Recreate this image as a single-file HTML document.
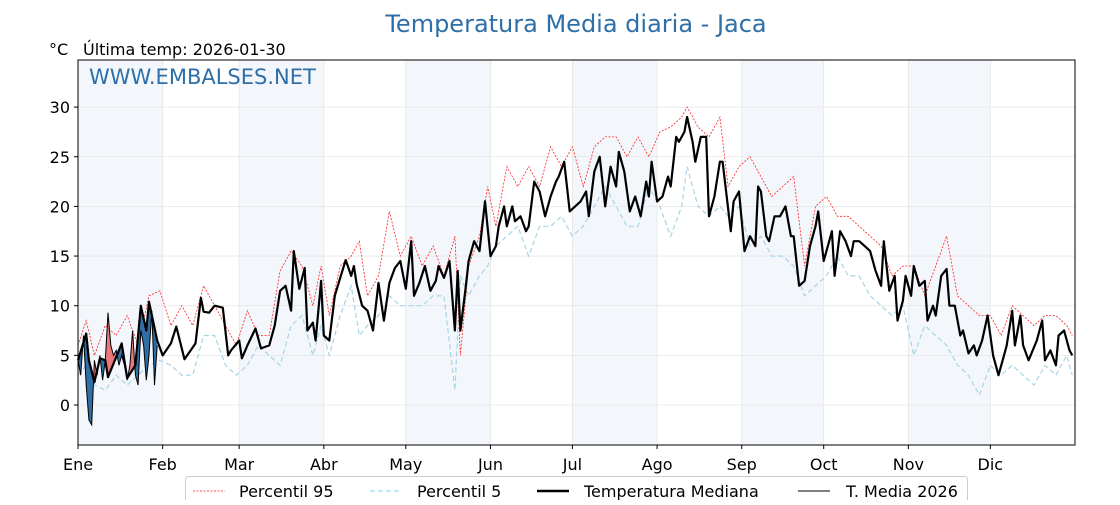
<!DOCTYPE html>
<html><head><meta charset="utf-8"><style>
body{margin:0;background:#fff;}
svg text{font-family:"DejaVu Sans","Liberation Sans",sans-serif;}
</style></head><body>
<svg id="chart" width="1120" height="500" xmlns="http://www.w3.org/2000/svg">
<rect width="1120" height="500" fill="#fff"/>
<text x="576" y="32" text-anchor="middle" font-size="24" fill="#2e6fa8">Temperatura Media diaria - Jaca</text>
<text x="49" y="55" font-size="16" fill="#000">°C</text>
<text x="83" y="55" font-size="16" fill="#000">Última temp: 2026-01-30</text>
<g id="plot"></g>
</svg>
<script>
const months=["Ene","Feb","Mar","Abr","May","Jun","Jul","Ago","Sep","Oct","Nov","Dic"];
const monthStart=[0,31,59,90,120,151,181,212,243,273,304,334];
const yTicks=[0,5,10,15,20,25,30];
const medDays=[0,3,4,6,8,10,11,16,18,21,23,25,26,29,31,34,36,39,43,45,46,48,50,53,55,56,59,60,62,65,67,70,72,74,76,78,79,81,83,84,86,87,89,90,92,94,96,98,100,101,102,104,106,108,110,112,114,116,118,120,122,123,125,127,129,131,132,134,136,138,139,140,142,143,145,147,149,151,153,154,156,157,159,160,162,164,165,167,169,171,173,175,176,178,180,182,184,186,187,189,191,193,195,197,198,200,202,204,206,208,209,210,212,214,216,217,219,220,222,223,225,226,228,230,231,233,235,236,239,240,242,244,246,248,249,250,252,253,255,257,259,261,262,264,266,268,270,271,273,275,276,277,279,281,283,284,286,288,290,292,294,295,297,299,300,302,303,305,306,308,310,311,313,314,316,318,319,321,323,324,326,328,329,331,333,335,337,339,340,342,343,345,346,348,351,353,354,356,358,359,361,363,364];
const medVals=[4.5,7.2,4.5,2.3,4.7,4.5,2.8,6.2,2.7,4,10,7.5,10.4,6.5,5,6.2,7.9,4.6,6.2,10.8,9.4,9.3,10,9.8,5,5.5,6.5,4.7,6,7.7,5.7,6,8,11.5,12,9.5,15.5,11.7,13.8,7.5,8.3,6.5,12.5,7,6.5,11,12.8,14.6,13,14,12.2,10,9.5,7.5,12.3,8.5,12.3,13.8,14.5,11.7,16.5,11,12.3,14,11.5,12.5,14,12.8,14.5,7.5,13.5,7.5,12,14.5,16.5,15.5,20.5,15,16,18,20,18,20,18.5,19,17.5,18,22.5,21.5,19,21,22.5,23,24.5,19.5,20,20.5,21.5,19,23.5,25,20,24,22,25.5,23.5,19.5,21,19,22.5,21,24.5,20.5,21,23,22,27,26.5,27.5,29,26.5,24.5,27,27,19,21,24.5,24.5,17.5,20.5,21.5,15.5,17,16,22,21.5,17,16.5,19,19,20,17,17,12,12.5,16,18,19.5,14.5,16.5,17.5,13,17.5,16.5,15,16.5,16.5,16,15.5,13.5,12,16.5,11.5,13,8.5,10.5,13,11,14,12,12.5,8.5,10,9,13,13.7,10,10,7,7.5,5.2,6,5,6.5,9,5,3,5,6,9.5,6,9,6,4.5,6.5,8.5,4.5,5.5,4,7,7.5,5.5,5];
const pDays=[0,3,6,10,14,18,22,26,30,34,38,42,46,50,54,58,62,66,70,74,78,82,86,89,92,96,100,103,106,110,114,118,122,126,130,134,138,140,143,147,150,153,157,161,165,169,173,177,181,185,189,193,197,201,205,209,213,217,221,223,227,231,235,238,242,246,250,254,258,262,266,270,274,278,282,286,290,294,298,302,306,310,314,318,322,326,330,334,338,342,346,350,354,358,362,364];
const p95Vals=[6,8.5,5,8,7,9,6,11,11.5,8,10,8,12,10,8,6,9.5,7,7,13.5,15.5,14,10,14,9,14,15,16.5,11,13,19.5,15,17,14,16,13,17,5,14,17,22,18,24,22,24,22,26,24,26,22,26,27,27,25,27,25,27.5,28,29,30,28,27,29,22,24,25,23,21,22,23,14,20,21,19,19,18,17,16,13,14,14,11,14,17,11,10,9,9,7,10,9,8,9,9,8,7];
const p5Vals=[3,4,2,1.5,3,2,3,4,4.5,4,3,3,7,7,4,3,4,6,5,4,8,9,5,8,5,9,12,7,8,9,11,10,10,10,11,11,1.5,13,11,13,14,16,17,18,15,18,18,19,17,18,20,22,20,18,18,22,20,17,20,24,20,19,20,19,20,16,17,15,15,14,11,12,13,15,13,13,11,10,9,10,5,8,7,6,4,3,1,4,3,4,3,2,4,3,5,3];
const curDays=[0,1,2,3,4,5,6,7,8,9,10,11,12,13,14,15,16,17,18,19,20,21,22,23,24,25,26,27,28,29];
const curVals=[4.5,3,7,2,-1.5,-2,4.5,3,5,2.5,4.5,9.3,6,5,5.5,4,5,4,2.5,4,7.5,3,2,7.5,6,2.5,5,9.5,2,6];

const L=78,R=1075,T=60,B=445;
const X=d=>L+d*(R-L)/365;
const Y=v=>405-v*9.93;
const NS="http://www.w3.org/2000/svg";
const g=document.getElementById('plot');
function mk(tag,attrs,parent){const e=document.createElementNS(NS,tag);for(const k in attrs)e.setAttribute(k,attrs[k]);(parent||g).appendChild(e);return e;}
function pts(ds,vs){return ds.map((d,i)=>X(d).toFixed(1)+","+Y(vs[i]).toFixed(1)).join(" ");}
function interp(d){for(let i=0;i<medDays.length-1;i++){if(d>=medDays[i]&&d<=medDays[i+1]){const t=(d-medDays[i])/(medDays[i+1]-medDays[i]||1);return medVals[i]+t*(medVals[i+1]-medVals[i]);}}return medVals[medVals.length-1];}

// month bands
for(let m=0;m<12;m+=2){const x0=X(monthStart[m]),x1=X(monthStart[m+1]);
const b=mk('rect',{x:x0,y:T,width:x1-x0,height:B-T,fill:'#f3f7fc'});

}
// grid
yTicks.forEach(v=>{const l=mk('line',{x1:L,x2:R,y1:Y(v),y2:Y(v),stroke:'#e6e6e6','stroke-width':0.8});


mk('line',{x1:L-4,x2:L,y1:Y(v),y2:Y(v),stroke:'#000'});
const t=mk('text',{x:L-8,y:Y(v)+6,'text-anchor':'end','font-size':16});t.textContent=v;

});
months.forEach((m,i)=>{const x=X(monthStart[i]);
const l=mk('line',{x1:x,x2:x,y1:T,y2:B,stroke:'#e6e6e6','stroke-width':0.8});


mk('line',{x1:x,x2:x,y1:B,y2:B+4,stroke:'#000'});
const t=mk('text',{x:x,y:B+25,'text-anchor':'middle','font-size':16});t.textContent=m;

});

const wm=mk('text',{x:89,y:84,'font-size':21,fill:'#2e6fa8'});wm.textContent='WWW.EMBALSES.NET';



// p5, p95
const p5=mk('polyline',{points:pts(pDays,p5Vals),fill:'none',stroke:'#a8d4e6','stroke-width':1.2,'stroke-dasharray':'5,3'});


const p95=mk('polyline',{points:pts(pDays,p95Vals),fill:'none',stroke:'#ff2020','stroke-width':0.8,'stroke-dasharray':'2,1.5'});



// fills between current and median
const medAtCur=curDays.map(interp);
const defs=mk('defs',{});
const c1=mk('clipPath',{id:'aboveMed'},defs);
mk('polygon',{points:X(0)+","+T+" "+pts(curDays,medAtCur)+" "+X(29)+","+T},c1);
const c2=mk('clipPath',{id:'belowMed'},defs);
mk('polygon',{points:X(0)+","+B+" "+pts(curDays,medAtCur)+" "+X(29)+","+B},c2);
const curPts=pts(curDays,curVals);
const red=mk('polygon',{points:X(0)+","+B+" "+curPts+" "+X(29)+","+B,fill:'#e8787a','clip-path':'url(#aboveMed)'});


const blue=mk('polygon',{points:X(0)+","+T+" "+curPts+" "+X(29)+","+T,fill:'#2f6fa6','clip-path':'url(#belowMed)'});



const med=mk('polyline',{points:pts(medDays,medVals),fill:'none',stroke:'#000','stroke-width':2.2,'stroke-linejoin':'round'});


const cur=mk('polyline',{points:curPts,fill:'none',stroke:'#000','stroke-width':1});



const frame=mk('rect',{x:L,y:T,width:R-L,height:B-T,fill:'none',stroke:'#000','stroke-width':1});



// legend
const lg=mk('g',{});


mk('rect',{x:185.5,y:476.5,width:782,height:30,rx:3,fill:'#fff',stroke:'#ccc'},lg);
const items=[["Percentil 95",193,239,{stroke:'#ff2020','stroke-width':0.8,'stroke-dasharray':'2,1.5'}],
["Percentil 5",370,417,{stroke:'#a8d4e6','stroke-width':1.2,'stroke-dasharray':'5,3'}],
["Temperatura Mediana",537,584,{stroke:'#000','stroke-width':2.5}],
["T. Media 2026",798,846,{stroke:'#000','stroke-width':1}]];
items.forEach(it=>{const e=mk('g',{},lg);


const a=Object.assign({x1:it[1],x2:it[1]+32,y1:491,y2:491},it[3]);mk('line',a,e);
const t=mk('text',{x:it[2],y:497,'font-size':16},e);t.textContent=it[0];});
</script>
</body></html>
